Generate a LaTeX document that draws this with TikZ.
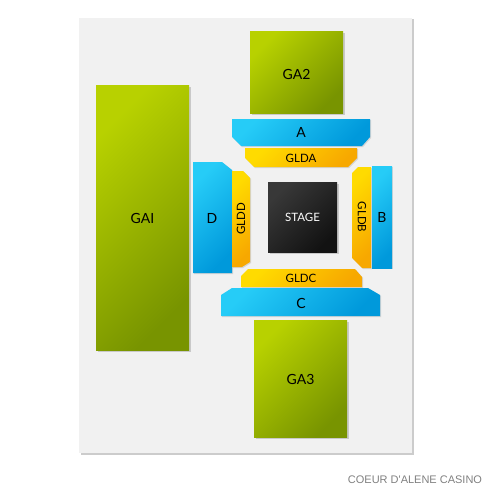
\documentclass[tikz,border=0pt]{standalone}
\usepackage{fontspec}
\setmainfont{Lato}
\newfontfamily\footfont{Liberation Sans}
\usetikzlibrary{shadows}
\definecolor{PanelClr}{rgb}{0.945,0.945,0.945}
\definecolor{GreenLt}{rgb}{0.72,0.82,0}
\definecolor{GreenDk}{rgb}{0.47,0.58,0}
\definecolor{BlueLt}{rgb}{0.15,0.80,0.97}
\definecolor{BlueDk}{rgb}{0,0.60,0.86}
\definecolor{GoldLt}{rgb}{1,0.86,0}
\definecolor{GoldDk}{rgb}{0.97,0.66,0}
\definecolor{StageLt}{rgb}{0.22,0.22,0.22}
\definecolor{StageDk}{rgb}{0.07,0.07,0.07}

\begin{document}
\begin{tikzpicture}[x=1pt,y=-1pt,
  ga/.style={top color=GreenLt,bottom color=GreenDk,shading angle=45,
    drop shadow={shadow xshift=1.5pt,shadow yshift=-1.5pt,opacity=0.35}},
  seats/.style={top color=BlueLt,bottom color=BlueDk,shading angle=45,
    drop shadow={shadow xshift=1pt,shadow yshift=-1pt,opacity=0.25}},
  floor/.style={top color=GoldLt,bottom color=GoldDk,shading angle=45,
    drop shadow={shadow xshift=1pt,shadow yshift=-1pt,opacity=0.25}},
  stagebox/.style={top color=StageLt,bottom color=StageDk,shading angle=45,
    drop shadow={shadow xshift=1.5pt,shadow yshift=-1.5pt,opacity=0.35}},
  lbl/.style={font=\fontsize{14}{14}\selectfont,text=black},
  small/.style={font=\fontsize{11.5}{11.5}\selectfont,text=black}]
\useasboundingbox (0,0) rectangle (500,500);

% panel
\fill[black!20] (80.5,19.5) rectangle (413.5,454.5);
\fill[PanelClr] (79,18) rectangle (412,453);

% general admission
\shade[ga] (250,32) rectangle (343,114);
\shade[ga] (96,86) rectangle (189,350);
\shade[ga] (254,320) rectangle (347,437);
\node[lbl] (ga2) at (296.5,74) {GA2};
\node[lbl] (gai) at (142.5,218) {GAI};
\node[lbl] (ga3) at (300.5,379) {GA3};

% sections
\shade[seats] (232,119) -- (370,119) -- (370,137) -- (362,146) -- (241,146) -- (232,137) -- cycle;
\shade[floor] (245,148) -- (357,148) -- (357,158) -- (348,167) -- (254,167) -- (245,158) -- cycle;
\shade[seats] (193,162) -- (222,162) -- (232,170) -- (232,273) -- (193,273) -- cycle;
\shade[floor] (232,171) -- (243,171) -- (250,178) -- (250,262) -- (242,267) -- (232,267) -- cycle;
\shade[stagebox] (268,182) rectangle (337,252);
\shade[floor] (358,167) -- (371,167) -- (371,268) -- (362,268) -- (352,258) -- (352,173) -- cycle;
\shade[seats] (372,166) rectangle (392,268);
\shade[floor] (248,269) -- (355,269) -- (362,277) -- (362,287) -- (241,287) -- (241,276) -- cycle;
\shade[seats] (232,288) -- (368,288) -- (380,295) -- (380,316) -- (221,316) -- (221,295) -- cycle;

\node[lbl] (a) at (301,132) {A};
\node[small] (glda) at (301,158) {GLDA};
\node[lbl] (d) at (212,218) {D};
\node[small,rotate=90] (gldd) at (241,219) {GLDD};
\node[small,text=white] (stage) at (302.5,217) {STAGE};
\node[small,rotate=-90] (gldb) at (362,217) {GLDB};
\node[lbl] (b) at (382,217) {B};
\node[small] (gldc) at (301,278) {GLDC};
\node[lbl] (c) at (301,303) {C};

\node[font=\footfont\fontsize{11}{11}\selectfont,text=black!50] (venue) at (415,480) {COEUR D'ALENE CASINO};
\end{tikzpicture}
\end{document}
